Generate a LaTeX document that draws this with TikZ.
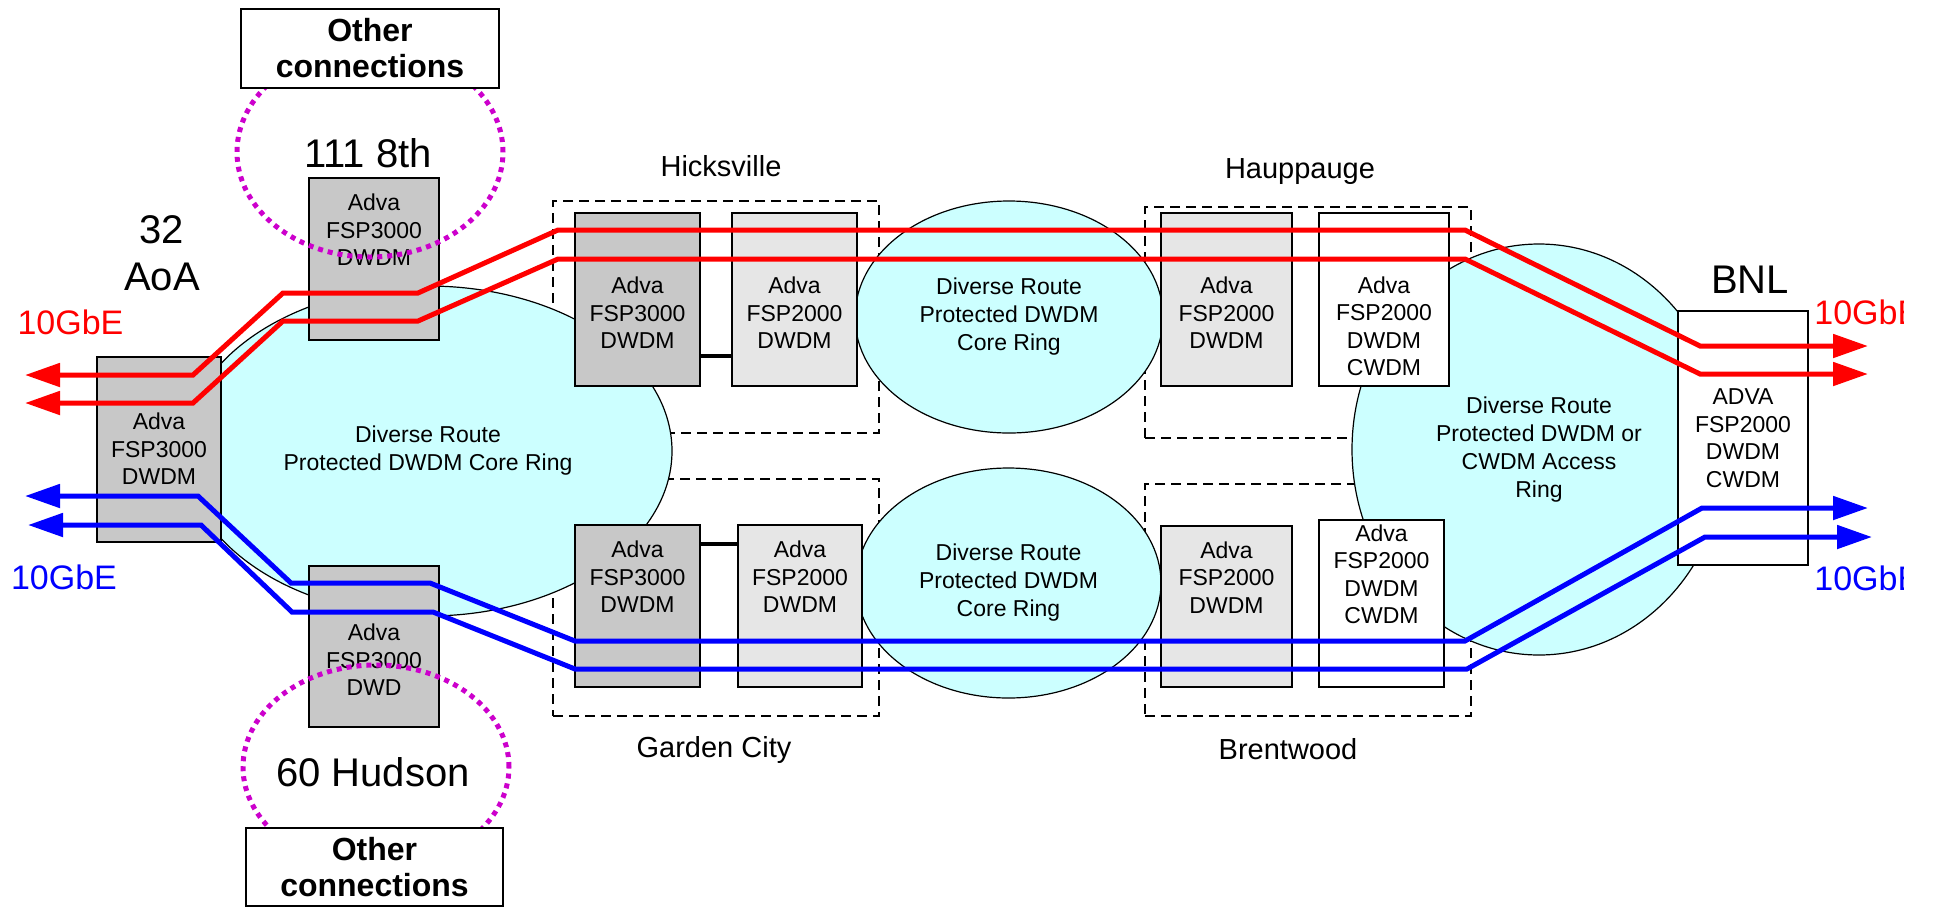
\documentclass[tikz,border=0pt]{standalone}
\usepackage{fontspec}
\setmainfont{Liberation Sans}
\usetikzlibrary{shapes.geometric,arrows.meta,calc}
\definecolor{gdark}{RGB}{200,200,200}
\definecolor{glight}{RGB}{230,230,230}
\definecolor{ringcyan}{RGB}{204,255,255}
\definecolor{sitemag}{RGB}{204,0,204}
\definecolor{linkred}{RGB}{255,0,0}
\definecolor{linkblue}{RGB}{0,0,255}
\begin{document}
\begin{tikzpicture}[x=0.5pt,y=-0.5pt,
  eqbox/.style={draw=black,line width=0.8pt,inner sep=0pt},
  darkbox/.style={eqbox,fill=gdark},
  lightbox/.style={eqbox,fill=glight},
  whitebox/.style={eqbox,fill=white},
  grp/.style={draw=black,line width=0.75pt,dash pattern=on 5pt off 3pt,inner sep=0pt},
  ring/.style={ellipse,draw=black,line width=0.6pt,fill=ringcyan,inner sep=0pt,align=center,font=\fontsize{11.5}{14}\selectfont},
  site/.style={ellipse,draw=sitemag,line width=2.5pt,dash pattern=on 2.5pt off 2.5pt,inner sep=0pt},
  ocbox/.style={draw=black,line width=0.8pt,fill=white,inner sep=0pt,align=center,font=\bfseries\fontsize{16}{18}\selectfont},
  eqtext/.style={inner sep=0pt,align=center,font=\fontsize{11.5}{13.75}\selectfont},
  bigtext/.style={inner sep=0pt,align=center,font=\fontsize{20}{23.5}\selectfont},
  placetext/.style={inner sep=0pt,font=\fontsize{14.5}{17}\selectfont},
  gbetext/.style={inner sep=0pt,font=\fontsize{17}{20}\selectfont},
  shortlink/.style={draw=black,line width=2.3pt},
  circuit/.style={line width=2.5pt,{Triangle[length=17.5pt,width=11.5pt]}-{Triangle[length=17.5pt,width=11.5pt]}},
]
\useasboundingbox (0,0) rectangle (1933,907);

% site groups (dashed)
\node[grp,minimum width=163pt,minimum height=116pt] (hkgrp) at (716,317) {};
\node[grp,minimum width=163pt,minimum height=118.5pt] (gcgrp) at (716,597.5) {};
\node[grp,minimum width=163pt,minimum height=115.5pt] (hpgrp) at (1308,322.5) {};
\node[grp,minimum width=163pt,minimum height=116pt] (bwgrp) at (1308,600) {};

% rings
\node[ring,minimum width=244pt,minimum height=165pt] (ringL) at (428,451) {Diverse Route\\Protected DWDM Core Ring};
\node[ring,minimum width=154pt,minimum height=116pt] (ringT) at (1009,317) {Diverse Route\\Protected DWDM\\Core Ring};
\node[ring,minimum width=152.5pt,minimum height=115pt] (ringB) at (1008.5,583) {Diverse Route\\Protected DWDM\\Core Ring};
\node[ring,minimum width=187pt,minimum height=205.5pt] (ringR) at (1539,449.5) {Diverse Route\\Protected DWDM or\\CWDM Access\\Ring};

% equipment boxes
\node[darkbox,minimum width=62pt,minimum height=92.5pt] (aoa) at (159,449.5) {};
\node[eqtext] (aoat) at (159,449) {Adva\\FSP3000\\DWDM};
\node[darkbox,minimum width=65pt,minimum height=81pt] (e111) at (374,259) {};
\node[eqtext] (e111t) at (374,230) {Adva\\FSP3000\\DWDM};
\node[darkbox,minimum width=65pt,minimum height=80.5pt] (hud) at (374,646.5) {};
\node[eqtext] (hudt) at (374,660) {Adva\\FSP3000\\DWD};
\node[darkbox,minimum width=62.5pt,minimum height=86.5pt] (hk1) at (637.5,299.5) {};
\node[eqtext] (hk1t) at (637.5,313) {Adva\\FSP3000\\DWDM};
\node[lightbox,minimum width=62.5pt,minimum height=86.5pt] (hk2) at (794.5,299.5) {};
\node[eqtext] (hk2t) at (794.5,313) {Adva\\FSP2000\\DWDM};
\node[darkbox,minimum width=62.5pt,minimum height=81pt] (gc1) at (637.5,606) {};
\node[eqtext] (gc1t) at (637.5,577) {Adva\\FSP3000\\DWDM};
\node[lightbox,minimum width=62pt,minimum height=81pt] (gc2) at (800,606) {};
\node[eqtext] (gc2t) at (800,577) {Adva\\FSP2000\\DWDM};
\node[lightbox,minimum width=65.5pt,minimum height=86.5pt] (hp1) at (1226.5,299.5) {};
\node[eqtext] (hp1t) at (1226.5,313) {Adva\\FSP2000\\DWDM};
\node[whitebox,minimum width=65pt,minimum height=86.5pt] (hp2) at (1384,299.5) {};
\node[eqtext] (hp2t) at (1384,326.5) {Adva\\FSP2000\\DWDM\\CWDM};
\node[lightbox,minimum width=65.5pt,minimum height=80.5pt] (bw1) at (1226.5,606.5) {};
\node[eqtext] (bw1t) at (1226.5,577.5) {Adva\\FSP2000\\DWDM};
\node[whitebox,minimum width=62.5pt,minimum height=83.5pt] (bw2) at (1381.5,603.5) {};
\node[eqtext] (bw2t) at (1381.5,574.5) {Adva\\FSP2000\\DWDM\\CWDM};
\node[whitebox,minimum width=65pt,minimum height=127pt] (bnl) at (1743,438) {};
\node[eqtext] (bnlt) at (1743,438) {ADVA\\FSP2000\\DWDM\\CWDM};

% short links inside sites
\draw[shortlink] ([yshift=-28.25pt]hk1.east) -- ([yshift=-28.25pt]hk2.west);
\draw[shortlink] ([yshift=31pt]gc1.east) -- ([yshift=31pt]gc2.west);

% other-connection sites
\node[site,minimum width=133pt,minimum height=105pt] (site111) at (370,152) {};
\node[site,minimum width=133pt,minimum height=102pt] (site60) at (376,767) {};
\node[ocbox,minimum width=129pt,minimum height=39.5pt] (oc1) at (370,48.5) {Other\\connections};
\node[ocbox,minimum width=128.5pt,minimum height=39pt] (oc2) at (374.5,867) {Other\\connections};

% labels
\node[bigtext] (l111) at (368,153) {111 8th};
\node[bigtext] (l60) at (373,772) {60 Hudson};
\node[bigtext] (laoa) at (162,253) {32\\AoA};
\node[bigtext] (lbnl) at (1750,280) {BNL};
\node[placetext] (lhk) at (721,166) {Hicksville};
\node[placetext] (lhp) at (1300,172) {Hauppauge};
\node[placetext] (lgc) at (714,750) {Garden City};
\node[placetext] (lbw) at (1288,749) {Brentwood};
\node[gbetext,text=linkred] (gbeRL) at (70.5,322) {10GbE};
\node[gbetext,text=linkblue] (gbeBL) at (64,577) {10GbE};
\begin{scope}
\clip (0,0) rectangle (1903,907);
\node[gbetext,text=linkred,anchor=west] (gbeRR) at (1814,312) {10GbE};
\node[gbetext,text=linkblue,anchor=west] (gbeBR) at (1814,578) {10GbE};
\end{scope}

% circuit end points
\coordinate (r1a) at (25,375);  \coordinate (r1b) at (1868,346);
\coordinate (r2a) at (25,403);  \coordinate (r2b) at (1868,374);
\coordinate (b1a) at (25,496);  \coordinate (b1b) at (1868,508);
\coordinate (b2a) at (28,525);  \coordinate (b2b) at (1872,537);

\draw[circuit,draw=linkred] (r1a) -- (193,375) -- (283,293) -- (418,293) -- (558,230) -- (1465,230) -- (1700,346) -- (r1b);
\draw[circuit,draw=linkred] (r2a) -- (193,403) -- (283,321) -- (418,321) -- (558,259) -- (1465,259) -- (1700,374) -- (r2b);
\draw[circuit,draw=linkblue] (b1a) -- (198,496) -- (291,583) -- (430,583) -- (575,641) -- (1465,641) -- (1702,508) -- (b1b);
\draw[circuit,draw=linkblue] (b2a) -- (201,525) -- (292,612) -- (433,612) -- (575,669) -- (1467,669) -- (1705,537) -- (b2b);
\end{tikzpicture}
\end{document}
